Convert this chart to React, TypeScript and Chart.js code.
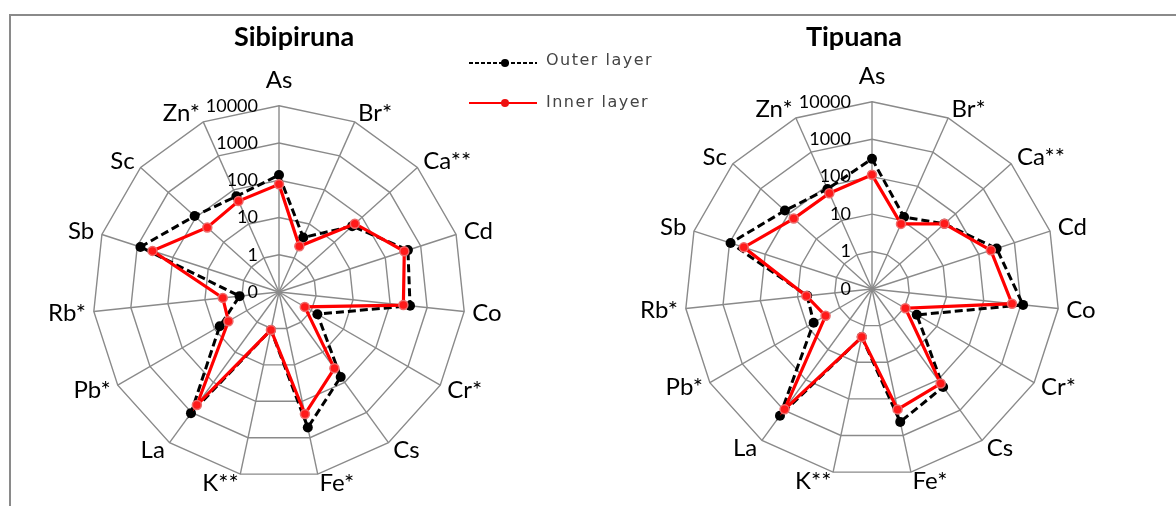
import React, { useEffect, useRef } from "react";
import { Chart, registerables } from "chart.js";

Chart.register(...registerables);

// ---- data ----
const AXES = ["As", "Br*", "Ca**", "Cd", "Co", "Cr*", "Cs", "Fe*", "K**", "La", "Pb*", "Rb*", "Sb", "Sc", "Zn*"];

const SIBI_OUTER = [138, 4.0, 44, 437, 345, 1.55, 66, 526, 1.1, 1050, 6.9, 1.16, 818, 112, 65];
const SIBI_INNER = [78, 2.2, 55, 345, 228, 0.63, 34, 224, 1.1, 565, 3.7, 3.3, 373, 39, 47];

const TIPU_OUTER = [299, 12.7, 40, 316, 1140, 2.4, 171, 425, 2.05, 1520, 6.3, 5.5, 937, 135, 84];
const TIPU_INNER = [112, 8, 40, 218, 575, 1.07, 132, 194, 2.05, 940, 2.7, 5.8, 398, 65, 63];

const TICK_VALUES = [0.1, 1, 10, 100, 1000, 10000];
const TICK_LABELS = ["0", "1", "10", "100", "1000", "10000"];

const SERIES_NAMES = ["Outer layer", "Inner layer"];
const TITLES = ["Sibipiruna", "Tipuana"];

// ---- layout ----
const LAYOUT = [
  { cx: 279, cy: 292, R: 186 },
  { cx: 872, cy: 289, R: 187 },
];

const GRID = "#8a8a8a";

const tickLabelPlugin = {
  id: "tickLabelsLeft",
  beforeDatasetsDraw(chart: any) {
    const s = chart.scales.r;
    const ctx = chart.ctx;
    ctx.save();
    ctx.font = "18px Lato";
    ctx.fillStyle = "#000";
    ctx.textAlign = "right";
    ctx.textBaseline = "middle";
    TICK_VALUES.forEach((v, i) => {
      const d = s.getDistanceFromCenterForValue(Math.log10(v));
      ctx.fillText(TICK_LABELS[i], s.xCenter - 21, s.yCenter - d);
    });
    ctx.restore();
  },
};

function makeConfig(outer: number[], inner: number[]): any {
  return {
    type: "radar",
    data: {
      labels: AXES,
      datasets: [
        {
          label: SERIES_NAMES[0],
          data: outer.map((v) => Math.log10(v)),
          borderColor: "#000",
          borderWidth: 3,
          borderDash: [8, 4],
          pointRadius: 5,
          pointBackgroundColor: "#000",
          pointBorderColor: "#000",
          pointBorderWidth: 0,
          fill: false,
          order: 1,
        },
        {
          label: SERIES_NAMES[1],
          data: inner.map((v) => Math.log10(v)),
          borderColor: "#ff0000",
          borderWidth: 3.2,
          pointRadius: 4.5,
          pointBackgroundColor: "#ff1a1a",
          pointBorderColor: "#ee6a6a",
          pointBorderWidth: 1.5,
          fill: false,
          order: 0,
        },
      ],
    },
    options: {
      responsive: false,
      animation: false,
      events: [],
      plugins: {
        legend: { display: false },
        tooltip: { enabled: false },
        title: { display: false },
      },
      elements: { line: { tension: 0 } },
      scales: {
        r: {
          min: -1,
          max: 4,
          ticks: { stepSize: 1, display: false },
          grid: { color: GRID, lineWidth: 1.4 },
          angleLines: { color: GRID, lineWidth: 1.4 },
          pointLabels: {
            font: { family: "Lato", size: 24, lineHeight: "2px" },
            color: "#000",
            padding: (ctx: any) => (ctx.index === 0 ? 25 : 8),
          },
        },
      },
    },
    plugins: [tickLabelPlugin],
  };
}

function buildChart(canvas: HTMLCanvasElement, outer: number[], inner: number[], lay: { cx: number; cy: number; R: number }) {
  let size = 2 * lay.R + 180;
  let chart: any = null;
  for (let k = 0; k < 6; k++) {
    if (chart) chart.destroy();
    canvas.width = size;
    canvas.height = size;
    canvas.style.width = size + "px";
    canvas.style.height = size + "px";
    chart = new Chart(canvas, makeConfig(outer, inner));
    const da = chart.scales.r.drawingArea;
    if (Math.abs(da - lay.R) < 0.5) break;
    size = Math.round(size + 2 * (lay.R - da));
  }
  const s = chart.scales.r;
  canvas.style.left = lay.cx - s.xCenter + "px";
  canvas.style.top = lay.cy - s.yCenter + "px";
  return chart;
}

export default function App() {
  const leftRef = useRef<HTMLCanvasElement>(null);
  const rightRef = useRef<HTMLCanvasElement>(null);

  useEffect(() => {
    const charts = [
      buildChart(leftRef.current!, SIBI_OUTER, SIBI_INNER, LAYOUT[0]),
      buildChart(rightRef.current!, TIPU_OUTER, TIPU_INNER, LAYOUT[1]),
    ];
    return () => charts.forEach((c) => c.destroy());
  }, []);

  const titleStyle = (cx: number): React.CSSProperties => ({
    position: "absolute",
    left: cx - 120,
    width: 240,
    top: 20,
    textAlign: "center",
    fontFamily: "Lato",
    fontWeight: 700,
    fontSize: 27,
    lineHeight: "32px",
    color: "#000",
  });

  const legendText = (top: number): React.CSSProperties => ({
    position: "absolute",
    left: 546,
    top,
    fontFamily: "'DejaVu Sans'",
    fontSize: 16,
    lineHeight: "20px",
    letterSpacing: "1.5px",
    color: "#444",
    whiteSpace: "nowrap",
  });

  return (
    <div
      style={{
        position: "absolute",
        left: 0,
        top: 0,
        width: 1176,
        height: 506,
        overflow: "hidden",
        background: "#fff",
      }}
    >
      <div
        style={{
          position: "absolute",
          left: 9,
          top: 14,
          width: 1165,
          height: 490,
          borderTop: "2px solid #8a8a8a",
          borderLeft: "2px solid #8a8a8a",
        }}
      />
      <canvas ref={leftRef} style={{ position: "absolute" }} />
      <canvas ref={rightRef} style={{ position: "absolute" }} />
      <div style={titleStyle(294)}>{TITLES[0]}</div>
      <div style={titleStyle(854)}>{TITLES[1]}</div>

      {/* legend */}
      <div
        style={{
          position: "absolute",
          left: 469,
          top: 62,
          width: 68,
          height: 1.5,
          background: "repeating-linear-gradient(to right, #000 0 4px, transparent 4px 6px)",
        }}
      />
      <div style={{ position: "absolute", left: 501, top: 59, width: 8, height: 8, borderRadius: 4, background: "#000" }} />
      <div style={legendText(50)}>{SERIES_NAMES[0]}</div>
      <div style={{ position: "absolute", left: 469, top: 102, width: 68, height: 1.5, background: "#ff0000" }} />
      <div style={{ position: "absolute", left: 501, top: 99, width: 8, height: 8, borderRadius: 4, background: "#ee1111" }} />
      <div style={legendText(92)}>{SERIES_NAMES[1]}</div>
    </div>
  );
}
